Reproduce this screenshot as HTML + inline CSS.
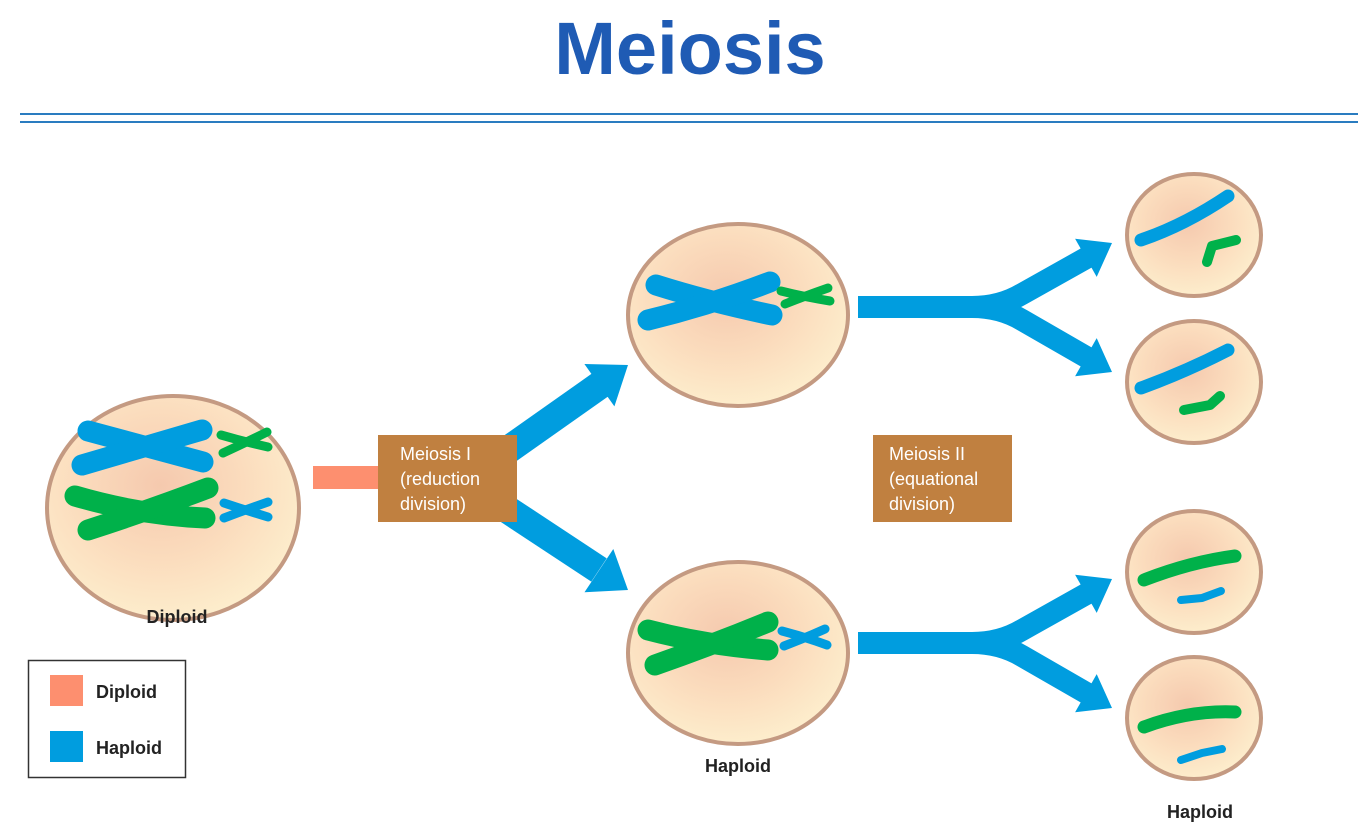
<!DOCTYPE html>
<html><head><meta charset="utf-8"><style>
html,body{margin:0;padding:0;background:#fff;}
svg{display:block;}
text{font-family:"Liberation Sans",sans-serif;}
</style></head><body>
<svg width="1366" height="840" viewBox="0 0 1366 840" xmlns="http://www.w3.org/2000/svg">
<defs>
<radialGradient id="cg" cx="0.45" cy="0.4" r="0.6">
<stop offset="0" stop-color="#f5c9ae"/>
<stop offset="0.55" stop-color="#fbdcbd"/>
<stop offset="1" stop-color="#fdedcc"/>
</radialGradient>
</defs>
<text x="690" y="74" text-anchor="middle" font-size="74" font-weight="bold" fill="#1f5bb4">Meiosis</text>
<line x1="20" y1="114" x2="1358" y2="114" stroke="#2a7cc0" stroke-width="2"/>
<line x1="20" y1="122" x2="1358" y2="122" stroke="#2a7cc0" stroke-width="2"/>

<g stroke="#c49a82" stroke-width="4" fill="url(#cg)">
<ellipse cx="173" cy="508" rx="126" ry="112"/>
<ellipse cx="738" cy="315" rx="110" ry="91"/>
<ellipse cx="738" cy="653" rx="110" ry="91"/>
<ellipse cx="1194" cy="235" rx="67" ry="61"/>
<ellipse cx="1194" cy="382" rx="67" ry="61"/>
<ellipse cx="1194" cy="572" rx="67" ry="61"/>
<ellipse cx="1194" cy="718" rx="67" ry="61"/>
</g>

<g fill="none" stroke-linecap="round" stroke-linejoin="round">
<g stroke="#009ddf" stroke-width="21"><path d="M88,431 Q140,445 203,462"/><path d="M82,465 Q140,448 202,430"/></g>
<g stroke="#00b14a" stroke-width="21"><path d="M75,496 Q140,515 205,518"/><path d="M88,530 Q150,510 208,488"/></g>
<g stroke="#00b14a" stroke-width="9"><path d="M221,435 Q245,442 268,447"/><path d="M223,453 Q245,443 267,432"/></g>
<g stroke="#009ddf" stroke-width="9"><path d="M224,503 Q245,510 268,517"/><path d="M224,518 Q245,510 268,502"/></g>
<g stroke="#009ddf" stroke-width="21"><path d="M656,285 Q710,302 772,315"/><path d="M648,320 Q710,305 770,282"/></g>
<g stroke="#00b14a" stroke-width="9"><path d="M781,291 Q805,297 830,301"/><path d="M785,304 Q805,296 828,288"/></g>
<g stroke="#00b14a" stroke-width="21"><path d="M648,630 Q705,645 768,650"/><path d="M655,665 Q712,645 768,622"/></g>
<g stroke="#009ddf" stroke-width="9"><path d="M782,631 Q805,637 827,645"/><path d="M784,646 Q805,638 825,629"/></g>
<path d="M1141,240 Q1185,225 1228,196" stroke="#009ddf" stroke-width="13"/>
<path d="M1207,262 L1212,246 L1236,240" stroke="#00b14a" stroke-width="10"/>
<path d="M1141,388 Q1185,372 1228,350" stroke="#009ddf" stroke-width="13"/>
<path d="M1184,410 L1210,405 L1220,396" stroke="#00b14a" stroke-width="10"/>
<path d="M1144,580 Q1190,562 1235,556" stroke="#00b14a" stroke-width="13"/>
<path d="M1181,600 L1202,598 L1221,591" stroke="#009ddf" stroke-width="8"/>
<path d="M1144,727 Q1190,710 1235,712" stroke="#00b14a" stroke-width="13"/>
<path d="M1181,760 L1202,753 L1222,749" stroke="#009ddf" stroke-width="8"/>
</g>

<rect x="313" y="466" width="66" height="23" fill="#fd8f6f"/>
<g fill="#009ddf" stroke="none">
<path d="M505,452 L600,385" stroke="#009ddf" stroke-width="28"/>
<polygon points="628,365 614.4,406.4 584.4,364"/>
<path d="M505,508 L599,570" stroke="#009ddf" stroke-width="28"/>
<polygon points="628,590 584.5,592.2 613.3,549"/>
</g>
<rect x="378" y="435" width="139" height="87" fill="#c08040"/>
<text font-size="18" fill="#fff"><tspan x="400" y="460">Meiosis I</tspan><tspan x="400" y="485">(reduction</tspan><tspan x="400" y="510">division)</tspan></text>

<g id="fork">
<path d="M858,307 H972 Q1000,307 1022,294 L1088,257 M972,307 Q1000,307 1022,320 L1088,358" fill="none" stroke="#009ddf" stroke-width="22"/>
<polygon points="1112,243 1096.7,276.9 1075.1,238.7" fill="#009ddf"/>
<polygon points="1112,372 1075.1,376.3 1096.7,338.1" fill="#009ddf"/>
</g>
<use href="#fork" transform="translate(0,336)"/>

<rect x="873" y="435" width="139" height="87" fill="#c08040"/>
<text font-size="18" fill="#fff"><tspan x="889" y="460">Meiosis II</tspan><tspan x="889" y="485">(equational</tspan><tspan x="889" y="510">division)</tspan></text>

<text x="177" y="623" text-anchor="middle" font-size="18" font-weight="bold" fill="#222">Diploid</text>
<text x="738" y="772" text-anchor="middle" font-size="18" font-weight="bold" fill="#222">Haploid</text>
<text x="1200" y="818" text-anchor="middle" font-size="18" font-weight="bold" fill="#222">Haploid</text>

<rect x="28.5" y="660.5" width="157" height="117" fill="#fff" stroke="#333" stroke-width="1.5"/>
<rect x="50" y="675" width="33" height="31" fill="#fd8f6f"/>
<rect x="50" y="731" width="33" height="31" fill="#009ddf"/>
<text x="96" y="698" font-size="18" font-weight="bold" fill="#222">Diploid</text>
<text x="96" y="754" font-size="18" font-weight="bold" fill="#222">Haploid</text>
</svg>
</body></html>
